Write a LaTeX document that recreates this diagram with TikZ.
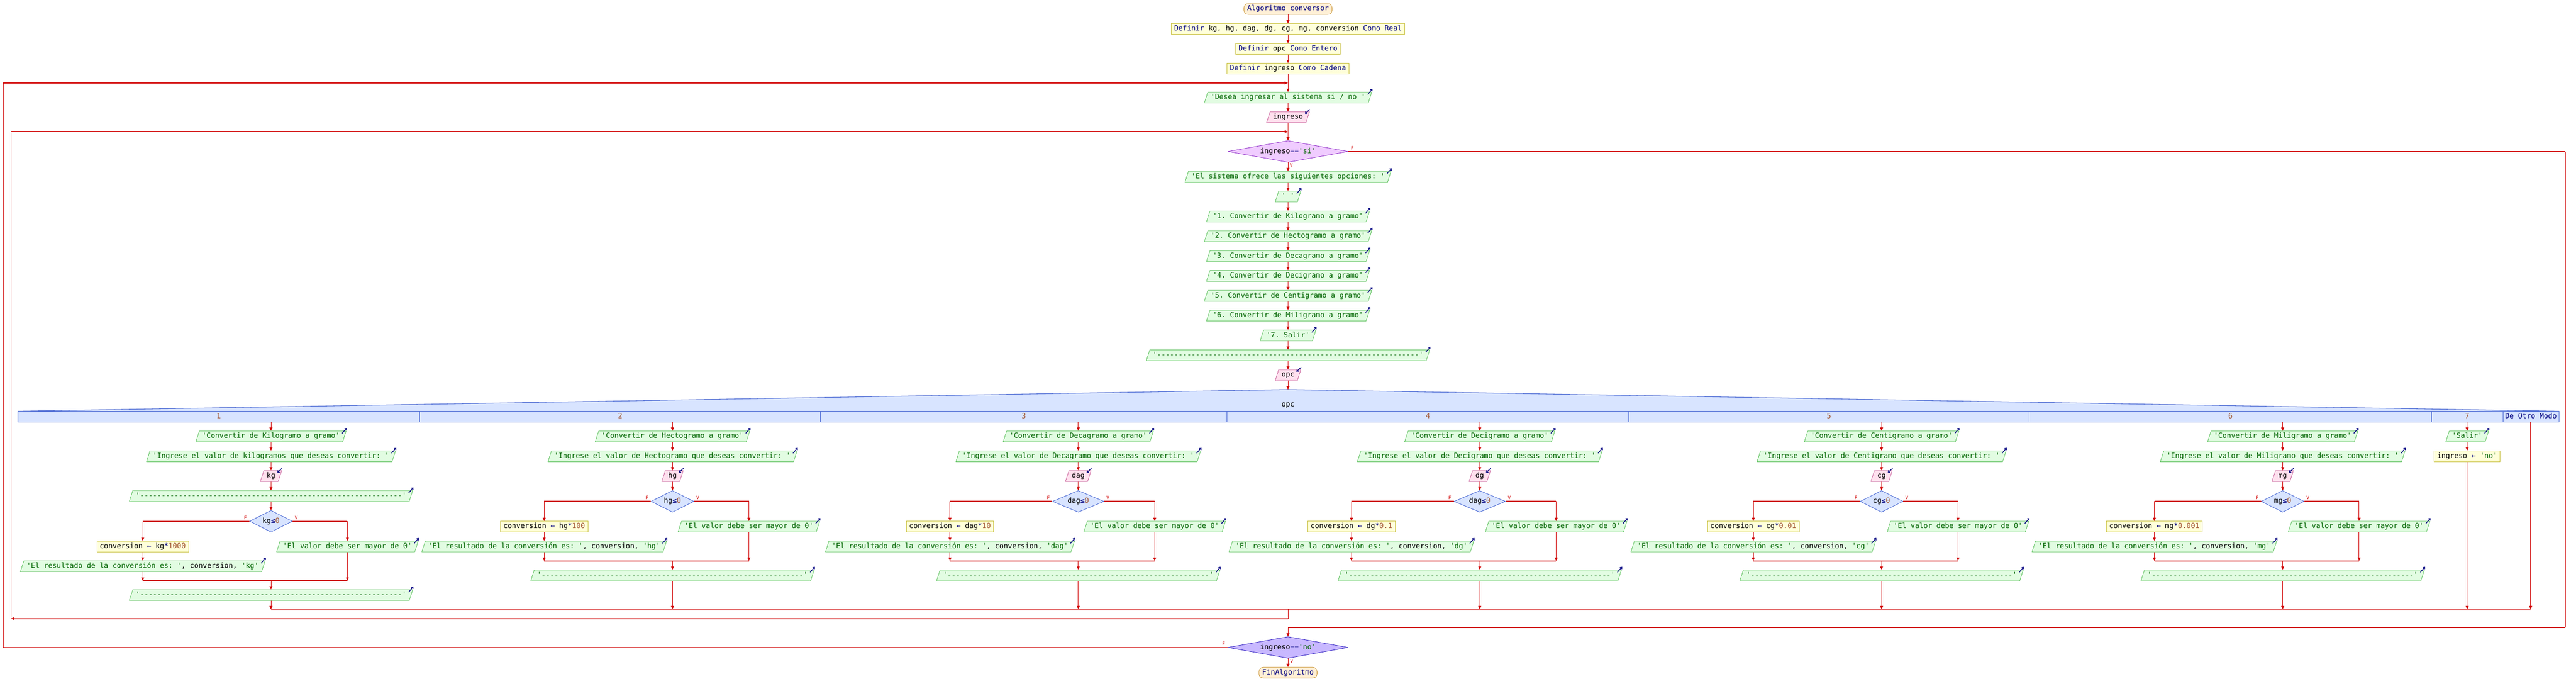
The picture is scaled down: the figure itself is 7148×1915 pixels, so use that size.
\documentclass[tikz,border=0pt]{standalone}
\usepackage{fontspec}
\setmonofont{DejaVu Sans Mono}
\usepackage{tikz}
\usetikzlibrary{arrows.meta,positioning,calc,shapes.geometric}

\definecolor{rojo}{HTML}{D00000}
\definecolor{azul}{HTML}{000080}
\definecolor{verde}{HTML}{006400}
\definecolor{cafe}{HTML}{A0522D}
\definecolor{fsalida}{HTML}{E2FCE2}
\definecolor{bsalida}{HTML}{5CBF5C}
\definecolor{fentrada}{HTML}{FFE0EE}
\definecolor{bentrada}{HTML}{C8609A}
\definecolor{fdef}{HTML}{FFFFDA}
\definecolor{bdef}{HTML}{C8C040}
\definecolor{fini}{HTML}{FFF0D6}
\definecolor{bini}{HTML}{C8902A}
\definecolor{fmien}{HTML}{F0CCFF}
\definecolor{bmien}{HTML}{9030C8}
\definecolor{frep}{HTML}{C8B8FF}
\definecolor{brep}{HTML}{3020C0}
\definecolor{fsi}{HTML}{D8E4FF}
\definecolor{bsi}{HTML}{4060D0}

\newcommand\cad[1]{\textcolor{verde}{#1}}
\newcommand\kw[1]{\textcolor{azul}{#1}}
\newcommand\nro[1]{\textcolor{cafe}{#1}}
\newcommand\guiones{-------------------------------------------------------------}
\newcommand\salida[3]
{
\node[salida] (#1) at (#2) {#3};
\draw[icono] ($(#1.top right corner)+(-12,7)$)--($(#1.top right corner)+(1,-8)$);
}
\newcommand\entrada[3]
{
\node[entrada] (#1) at (#2) {#3};
\draw[icono] ($(#1.top right corner)+(0,-6)$)--($(#1.top right corner)+(-13,6)$);
}

\begin{document}
\begin{tikzpicture}[x=1pt,y=-1pt,line join=round,
  >={Triangle[length=9pt,width=8pt]},
  base/.style={font=\ttfamily\fontsize{19.8}{24}\selectfont,text height=14pt,text depth=4pt,line width=1.2pt},
  caja/.style={base,rectangle,inner xsep=8pt,inner ysep=6pt},
  inicio/.style={caja,rounded corners=12pt,fill=fini,draw=bini,inner xsep=9pt},
  definir/.style={caja,fill=fdef,draw=bdef},
  asignar/.style={caja,fill=fdef,draw=bdef},
  para/.style={base,trapezium,trapezium left angle=72,trapezium right angle=108,inner xsep=8pt,inner ysep=6pt},
  salida/.style={para,fill=fsalida,draw=bsalida},
  entrada/.style={para,fill=fentrada,draw=bentrada},
  rombo/.style={base,diamond,inner sep=0pt,minimum height=60pt},
  condsi/.style={rombo,aspect=2.5,fill=fsi,draw=bsi},
  mientras/.style={rombo,aspect=5.5,minimum width=334pt,fill=fmien,draw=bmien},
  repetir/.style={rombo,aspect=5.5,minimum width=334pt,fill=frep,draw=brep},
  cabecera/.style={fill=fsi,draw=bsi,line width=1.5pt},
  flujo/.style={draw=rojo,line width=1.4pt},
  rama/.style={draw=rojo,line width=2.6pt},
  icono/.style={draw=azul,line width=2pt,-{Straight Barb[length=4pt,width=7pt]}},
  etiq/.style={font=\ttfamily\fontsize{13}{15}\selectfont,text=rojo,inner sep=0pt},
  texto/.style={base,inner sep=0pt}
]
\useasboundingbox (0,0) rectangle (7148,1915);
% inicio y definiciones
\node[inicio] (ini) at (3574,25) {\kw{Algoritmo conversor}};
\node[definir] (def1) at (3574,80.5) {\kw{Definir} kg, hg, dag, dg, cg, mg, conversion \kw{Como Real}};
\node[definir] (def2) at (3574,135.5) {\kw{Definir} opc \kw{Como Entero}};
\node[definir] (def3) at (3574,190.5) {\kw{Definir} ingreso \kw{Como Cadena}};
\coordinate (rep) at (3574,230);
\salida{desea}{3574,270.5}{\cad{'Desea ingresar al sistema si / no '}}
\entrada{ing}{3574,325}{ingreso}
\coordinate (mie) at (3574,365);
\node[mientras] (cond) at (3574,420) {ingreso\kw{==}\cad{'si'}};
\node[etiq] (fcond) at ($(cond.east)+(11,-10)$) {F};
\node[etiq] (vcond) at ($(cond.south)+(9,7)$) {V};
\draw[flujo,->] (ini) -- (def1);
\draw[flujo,->] (def1) -- (def2);
\draw[flujo,->] (def2) -- (def3);
\draw[flujo,->] (def3) -- (desea);
\draw[flujo,->] (desea) -- (ing);
\draw[flujo,->] (ing) -- (cond);

% menu
\salida{ofrece}{3574,490}{\cad{'El sistema ofrece las siguientes opciones: '}}
\salida{blanco}{3574,545}{\cad{' '}}
\foreach \txt [count=\j] in {1. Convertir de Kilogramo a gramo,2. Convertir de Hectogramo a gramo,3. Convertir de Decagramo a gramo,4. Convertir de Decigramo a gramo,5. Convertir de Centigramo a gramo,6. Convertir de Miligramo a gramo,7. Salir}
{\salida{m\j}{3574,545+55*\j}{\cad{'\txt'}}}
\salida{sep0}{3574,985}{\cad{'\guiones'}}
\entrada{opc}{3574,1040}{opc}
\draw[flujo,->] (cond) -- (ofrece);
\draw[flujo,->] (ofrece) -- (blanco);
\draw[flujo,->] (blanco) -- (m1);
\foreach \j in {1,...,6}{\pgfmathtruncatemacro\k{\j+1}\draw[flujo,->] (m\j) -- (m\k);}
\draw[flujo,->] (m7) -- (sep0);
\draw[flujo,->] (sep0) -- (opc);

% segun opc
\coordinate (cima) at (3574,1080);
\filldraw[cabecera] (50,1140) -- (cima) -- (7101,1140) -- (7101,1170) -- (50,1170) -- cycle;
\draw[cabecera] (50,1140) -- (7101,1140);
\foreach \d in {1165,2277,3405,4519,5631,6747,6945} \draw[cabecera] (\d,1140) -- (\d,1170);
\draw[flujo,->] (opc) -- (cima);
\node[texto] (selec) at (3574,1122) {opc};
\foreach \n/\cl in {1/607,2/1721,3/2841,4/3962,5/5075,6/6189,7/6846}
  \node[texto,text=cafe] (val\n) at (\cl,1155) {\n};
\node[texto,text=azul] (otro) at (7023,1155) {De Otro Modo};

% caso 1
\coordinate (fila1) at (752,1170);
\salida{conv1}{752,1210}{\cad{'Convertir de Kilogramo a gramo'}}
\salida{ingr1}{752,1265}{\cad{'Ingrese el valor de kilogramos que deseas convertir: '}}
\entrada{var1}{752,1320}{kg}
\salida{sepa1}{752,1375}{\cad{'\guiones'}}
\node[condsi,minimum width=119] (si1) at (752,1445) {kg\kw{≤}\nro{0}};
\node[etiq] (f1) at ($(si1.west)+(-11,-10)$) {F};
\node[etiq] (v1) at ($(si1.east)+(10,-10)$) {V};
\node[asignar] (asig1) at (396,1515) {conversion \kw{←} kg\kw{*}\nro{1000}};
\salida{error1}{964,1515}{\cad{'El valor debe ser mayor de 0'}}
\salida{res1}{396,1570}{\cad{'El resultado de la conversión es: '}, conversion, \cad{'kg'}}
\coordinate (une1) at (752,1610);
\salida{sepb1}{752,1650}{\cad{'\guiones'}}
\coordinate (fin1) at (752,1689);
\draw[flujo,->] (fila1) -- (conv1);
\draw[flujo,->] (conv1) -- (ingr1);
\draw[flujo,->] (ingr1) -- (var1);
\draw[flujo,->] (var1) -- (sepa1);
\draw[flujo,->] (sepa1) -- (si1);
\draw[rama] (si1.west) -- (si1.west -| asig1);
\draw[flujo,->] (si1.west -| asig1) -- (asig1);
\draw[rama] (si1.east) -- (si1.east -| error1);
\draw[flujo,->] (si1.east -| error1) -- (error1);
\draw[flujo,->] (asig1) -- (res1);
\draw[flujo,->] (res1) -- (res1 |- une1);
\draw[flujo,->] (error1) -- (error1 |- une1);
\draw[rama] (res1 |- une1) -- (error1 |- une1);
\draw[flujo,->] (une1) -- (sepb1);
\draw[flujo,->] (sepb1) -- (fin1);

% casos 2 a 6
\foreach \n/\cx/\uni/\vr/\vc/\fac/\dw in {2/1866/Hectogramo/hg/hg/100/119,3/2992/Decagramo/dag/dag/10/143,4/4106/Decigramo/dg/dag/0.1/143,5/5221/Centigramo/cg/cg/0.01/119,6/6334/Miligramo/mg/mg/0.001/119}
{
\coordinate (fila\n) at (\cx,1170);
\salida{conv\n}{\cx,1210}{\cad{'Convertir de \uni{} a gramo'}}
\salida{ingr\n}{\cx,1265}{\cad{'Ingrese el valor de \uni{} que deseas convertir: '}}
\entrada{var\n}{\cx,1320}{\vr}
\node[condsi,minimum width=\dw] (si\n) at (\cx,1390) {\vc\kw{≤}\nro{0}};
\node[etiq] (f\n) at ($(si\n.west)+(-11,-10)$) {F};
\node[etiq] (v\n) at ($(si\n.east)+(10,-10)$) {V};
\node[asignar] (asig\n) at (\cx-356,1460) {conversion \kw{←} \vr\kw{*}\nro{\fac}};
\salida{error\n}{\cx+212,1460}{\cad{'El valor debe ser mayor de 0'}}
\salida{res\n}{\cx-356,1515}{\cad{'El resultado de la conversión es: '}, conversion, \cad{'\vr'}}
\coordinate (une\n) at (\cx,1555);
\salida{sepb\n}{\cx,1595}{\cad{'\guiones'}}
\coordinate (fin\n) at (\cx,1689);
\draw[flujo,->] (fila\n) -- (conv\n);
\draw[flujo,->] (conv\n) -- (ingr\n);
\draw[flujo,->] (ingr\n) -- (var\n);
\draw[flujo,->] (var\n) -- (si\n);
\draw[rama] (si\n.west) -- (si\n.west -| asig\n);
\draw[flujo,->] (si\n.west -| asig\n) -- (asig\n);
\draw[rama] (si\n.east) -- (si\n.east -| error\n);
\draw[flujo,->] (si\n.east -| error\n) -- (error\n);
\draw[flujo,->] (asig\n) -- (res\n);
\draw[flujo,->] (res\n) -- (res\n |- une\n);
\draw[flujo,->] (error\n) -- (error\n |- une\n);
\draw[rama] (res\n |- une\n) -- (error\n |- une\n);
\draw[flujo,->] (une\n) -- (sepb\n);
\draw[flujo,->] (sepb\n) -- (fin\n);
}

% caso 7 y de otro modo
\coordinate (fila7) at (6846,1170);
\salida{salir}{6846,1210}{\cad{'Salir'}}
\node[asignar] (asig7) at (6846,1265) {ingreso \kw{←} \cad{'no'}};
\coordinate (fin7) at (6846,1689);
\coordinate (fila8) at (7022,1170);
\coordinate (fin8) at (7022,1689);
\draw[flujo,->] (fila7) -- (salir);
\draw[flujo,->] (salir) -- (asig7);
\draw[flujo,->] (asig7) -- (fin7);
\draw[flujo,->] (fila8) -- (fin8);
\draw[rama] (fin1) -- (fin8);

% vuelta del mientras
\coordinate (finsel) at (3574,1689);
\coordinate (vuelta) at (3574,1715);
\coordinate (vizq) at (31,1715);
\draw[flujo] (finsel) -- (vuelta);
\draw[rama,->] (vuelta) -- (vizq);
\draw[flujo] (vizq) -- (vizq |- mie);
\draw[rama,->] (vizq |- mie) -- (mie);

% salida del mientras y repetir
\node[repetir] (hasta) at (3574,1795) {ingreso\kw{==}\cad{'no'}};
\node[etiq] (fhasta) at ($(hasta.west)+(-11,-10)$) {F};
\node[etiq] (vhasta) at ($(hasta.south)+(10,7)$) {V};
\coordinate (fder) at (7118,1740);
\draw[rama] (cond.east) -- (cond.east -| fder);
\draw[flujo] (cond.east -| fder) -- (fder);
\draw[rama] (fder) -- (fder -| hasta);
\draw[flujo,->] (fder -| hasta) -- (hasta);
\coordinate (rizq) at (9,1795);
\draw[rama] (hasta.west) -- (rizq);
\draw[flujo] (rizq) -- (rizq |- rep);
\draw[rama,->] (rizq |- rep) -- (rep);
\node[inicio] (fin) at (3574,1865) {\kw{FinAlgoritmo}};
\draw[flujo,->] (hasta) -- (fin);
\end{tikzpicture}
\end{document}
